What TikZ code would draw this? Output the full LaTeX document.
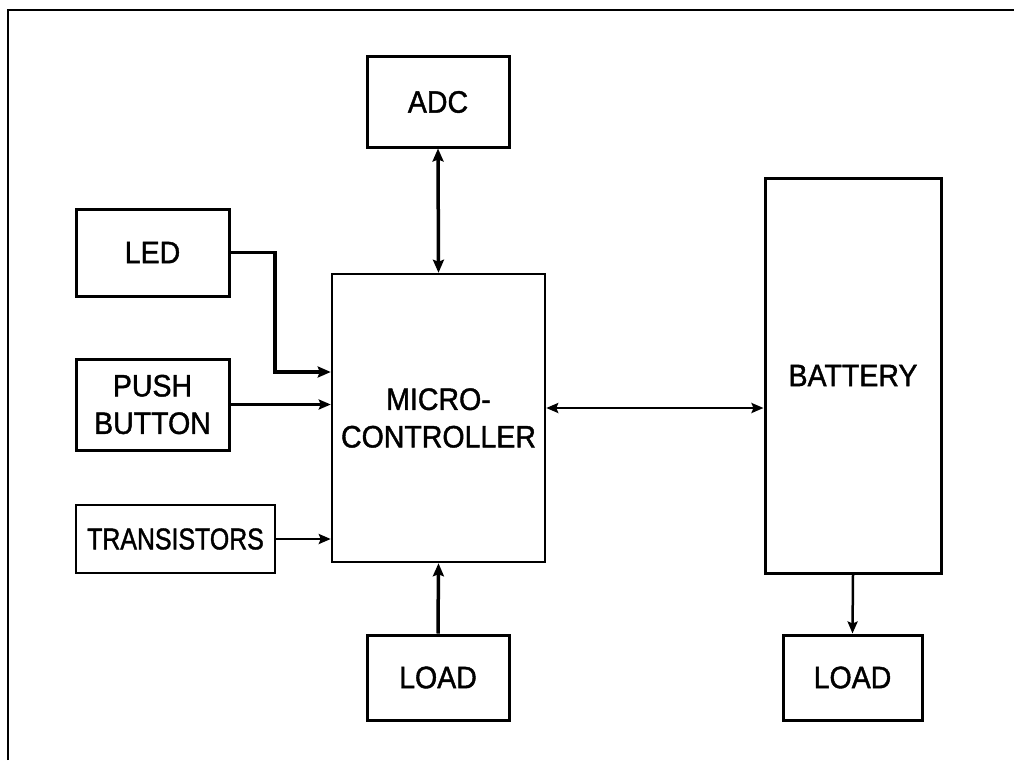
\documentclass[tikz,border=0pt]{standalone}
\usepackage{fontspec}
\setmainfont{Liberation Sans}
\newfontfamily\lblfont[FakeStretch=0.92,FakeBold=1.3]{Liberation Sans}
\newfontfamily\trfont[FakeStretch=0.83,FakeBold=1.3]{Liberation Sans}
\usetikzlibrary{arrows.meta}
\tikzset{
  blk/.style={draw, line width=3pt, inner sep=0pt, align=center,
    font=\lblfont\fontsize{31}{37.5}\selectfont},
  conn/.style={line width=2.5pt, -{Stealth[length=12pt,width=10pt,inset=2pt]}},
  thickconn/.style={line width=3.5pt, -{Stealth[length=13pt,width=11pt,inset=2pt]}},
  biconn/.style={line width=2.8pt, {Stealth[length=12pt,width=10pt,inset=2pt]}-{Stealth[length=12pt,width=10pt,inset=2pt]}},
  thickbiconn/.style={line width=3.5pt, {Stealth[length=13pt,width=11pt,inset=2pt]}-{Stealth[length=13pt,width=11pt,inset=2pt]}},
}
\begin{document}
\begin{tikzpicture}[x=1pt,y=-1pt]
\useasboundingbox (0,0) rectangle (1014,760);
\fill[white] (0,0) rectangle (1014,760);
\draw[line width=2.5pt] (8,760) -- (8,10) -- (1014,10);

\node[blk, minimum width=142pt, minimum height=90pt] (adc) at (438,102) {ADC};
\node[blk, minimum width=153pt, minimum height=87pt] (led) at (152.5,252.5) {LED};
\node[blk, minimum width=153pt, minimum height=91pt] (pb) at (152.5,404.5) {PUSH\\BUTTON};
\node[blk, line width=2.5pt, minimum width=199pt, minimum height=68pt, font=\trfont\fontsize{30}{36}\selectfont] (tr) at (175.5,539) {TRANSISTORS};
\node[blk, line width=2.5pt, minimum width=213pt, minimum height=288pt] (mc) at (438.5,418) {MICRO-\\CONTROLLER};
\node[blk, line width=3pt, minimum width=176pt, minimum height=395pt] (bat) at (853,375.5) {\raisebox{-3pt}{BATTERY}};
\node[blk, minimum width=142pt, minimum height=85pt] (load1) at (438,677.5) {LOAD};
\node[blk, minimum width=139pt, minimum height=85pt] (load2) at (852.5,677.5) {LOAD};

\coordinate (ledbend) at (275,372);
\draw[thickconn] (led.east) -| (ledbend) -- (mc.west |- ledbend);
\draw[conn] (pb.east) -- (mc.west |- pb.east);
\draw[conn] (tr.east) -- (mc.west |- tr.east);
\draw[thickbiconn] (adc.south) -- (mc.north);
\draw[thickconn] (load1.north) -- (mc.south);
\draw[biconn] ([yshift=10pt]mc.east) -- ([yshift=10pt]mc.east -| bat.west);
\draw[conn] (bat.south) -- (load2.north);
\end{tikzpicture}
\end{document}
